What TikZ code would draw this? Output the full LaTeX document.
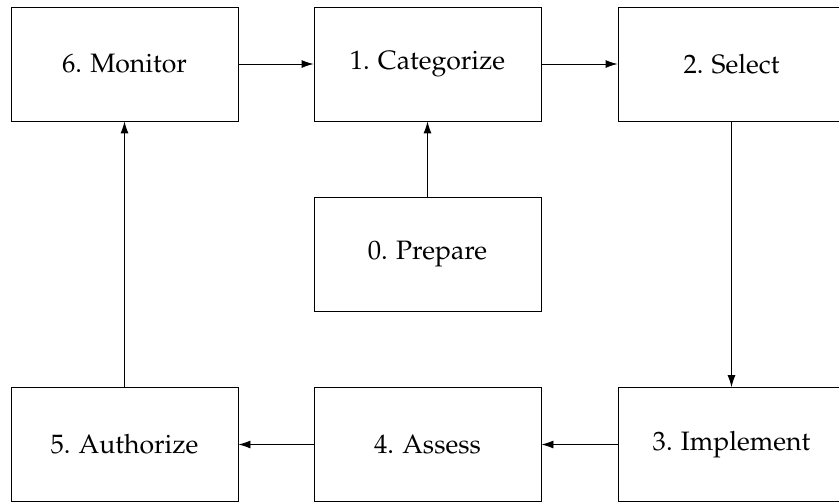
\documentclass[tikz,border=0pt]{standalone}
\usepackage[T1]{fontenc}
\usepackage{mathpazo}
\usetikzlibrary{arrows.meta}
\begin{document}
\begin{tikzpicture}[x=0.451pt,y=-0.451pt,
  stage/.style={draw, line width=0.4pt, minimum width=102.4pt, minimum height=51.4pt,
    inner sep=0pt, font=\fontsize{12pt}{14.4pt}\selectfont},
  flow/.style={draw, line width=0.4pt, -{Latex[length=5.4pt,width=3.6pt]}}]
  \useasboundingbox (0,0) rectangle (839,502);
  % process stages
  \node[stage] (monitor)    at (124.5,64)    {6. Monitor};
  \node[stage] (categorize) at (427.5,64)    {1. Categorize};
  \node[stage] (select)     at (731.5,64)    {2. Select};
  \node[stage] (prepare)    at (427.5,254.5) {0. Prepare};
  \node[stage] (authorize)  at (124.5,444.5) {5. Authorize};
  \node[stage] (assess)     at (427.5,444.5) {4. Assess};
  \node[stage] (implement)  at (731.5,444.5) {3. Implement};
  % cycle
  \draw[flow] (monitor) -- (categorize);
  \draw[flow] (categorize) -- (select);
  \draw[flow] (select) -- (implement);
  \draw[flow] (implement) -- (assess);
  \draw[flow] (assess) -- (authorize);
  \draw[flow] (authorize) -- (monitor);
  \draw[flow] (prepare) -- (categorize);
\end{tikzpicture}
\end{document}
